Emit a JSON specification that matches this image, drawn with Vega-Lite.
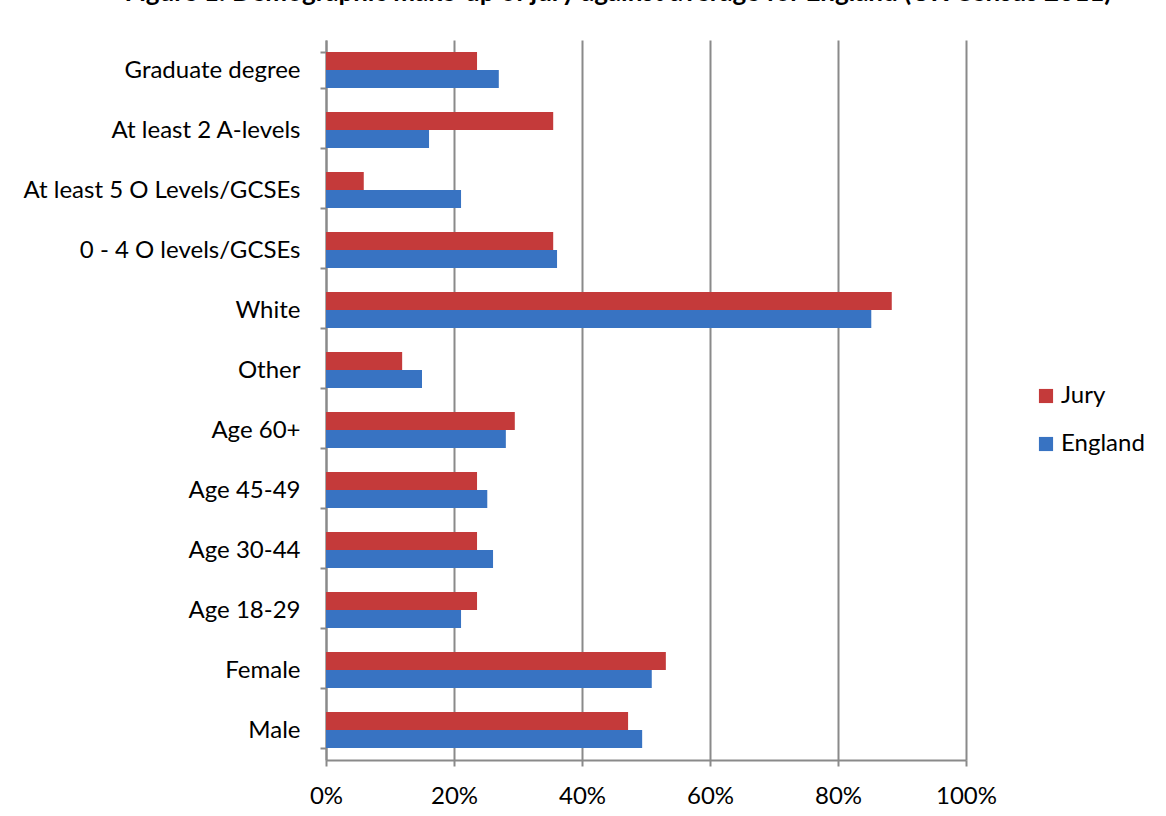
{
  "$schema": "https://vega.github.io/schema/vega-lite/v6.json",
  "width": 640,
  "height": 720,
  "autosize": {"type": "none"},
  "padding": {"left": 326, "top": 40, "right": 200, "bottom": 56},
  "background": "white",
  "title": {
    "text": "Figure 1: Demographic make-up of jury against average for England (UK Census 2011)",
    "font": "Lato",
    "fontSize": 26,
    "fontWeight": "bold",
    "color": "black",
    "anchor": "middle",
    "baseline": "alphabetic",
    "offset": 0,
    "dx": -28,
    "dy": -1
  },
  "data": {
    "values": [
      {"category": "Graduate degree", "series": "Jury", "value": 0.236},
      {"category": "Graduate degree", "series": "England", "value": 0.270},
      {"category": "At least 2 A-levels", "series": "Jury", "value": 0.355},
      {"category": "At least 2 A-levels", "series": "England", "value": 0.161},
      {"category": "At least 5 O Levels/GCSEs", "series": "Jury", "value": 0.059},
      {"category": "At least 5 O Levels/GCSEs", "series": "England", "value": 0.211},
      {"category": "0 - 4 O levels/GCSEs", "series": "Jury", "value": 0.355},
      {"category": "0 - 4 O levels/GCSEs", "series": "England", "value": 0.361},
      {"category": "White", "series": "Jury", "value": 0.884},
      {"category": "White", "series": "England", "value": 0.852},
      {"category": "Other", "series": "Jury", "value": 0.119},
      {"category": "Other", "series": "England", "value": 0.150},
      {"category": "Age 60+", "series": "Jury", "value": 0.295},
      {"category": "Age 60+", "series": "England", "value": 0.281},
      {"category": "Age 45-49", "series": "Jury", "value": 0.236},
      {"category": "Age 45-49", "series": "England", "value": 0.252},
      {"category": "Age 30-44", "series": "Jury", "value": 0.236},
      {"category": "Age 30-44", "series": "England", "value": 0.261},
      {"category": "Age 18-29", "series": "Jury", "value": 0.236},
      {"category": "Age 18-29", "series": "England", "value": 0.211},
      {"category": "Female", "series": "Jury", "value": 0.531},
      {"category": "Female", "series": "England", "value": 0.509},
      {"category": "Male", "series": "Jury", "value": 0.472},
      {"category": "Male", "series": "England", "value": 0.494}
    ]
  },
  "mark": {"type": "bar", "cornerRadius": 0},
  "encoding": {
    "y": {
      "field": "category",
      "type": "nominal",
      "sort": null,
      "scale": {"paddingInner": 0.4, "paddingOuter": 0.2},
      "axis": {
        "title": null,
        "labelFont": "Lato",
        "labelFontSize": 24,
        "labelColor": "black",
        "labelPadding": 20,
        "labelLimit": 0,
        "tickBand": "extent",
        "tickSize": 6,
        "tickColor": "#8a8a8a",
        "tickWidth": 2,
        "domainColor": "#8a8a8a",
        "domainWidth": 2,
        "grid": false
      }
    },
    "yOffset": {
      "field": "series",
      "type": "nominal",
      "sort": ["Jury", "England"],
      "scale": {"paddingInner": 0, "paddingOuter": 0}
    },
    "x": {
      "field": "value",
      "type": "quantitative",
      "scale": {"domain": [0, 1], "nice": false},
      "axis": {
        "title": null,
        "format": ".0%",
        "values": [0, 0.2, 0.4, 0.6, 0.8, 1],
        "labelFont": "Lato",
        "labelFontSize": 24,
        "labelColor": "black",
        "labelPadding": 18,
        "tickSize": 6,
        "tickColor": "#8a8a8a",
        "tickWidth": 2,
        "domainColor": "#8a8a8a",
        "domainWidth": 2,
        "grid": true,
        "gridColor": "#8a8a8a",
        "gridWidth": 2
      }
    },
    "color": {
      "field": "series",
      "type": "nominal",
      "scale": {"domain": ["Jury", "England"], "range": ["#c43a3a", "#3873c2"]},
      "legend": {
        "title": null,
        "orient": "none",
        "legendX": 708,
        "legendY": 344,
        "symbolType": "square",
        "symbolSize": 200,
        "symbolStrokeWidth": 0,
        "labelFont": "Lato",
        "labelFontSize": 24,
        "labelColor": "black",
        "labelOffset": 3,
        "rowPadding": 24
      }
    }
  },
  "config": {
    "view": {"stroke": null},
    "axis": {"labelFlush": false}
  }
}
